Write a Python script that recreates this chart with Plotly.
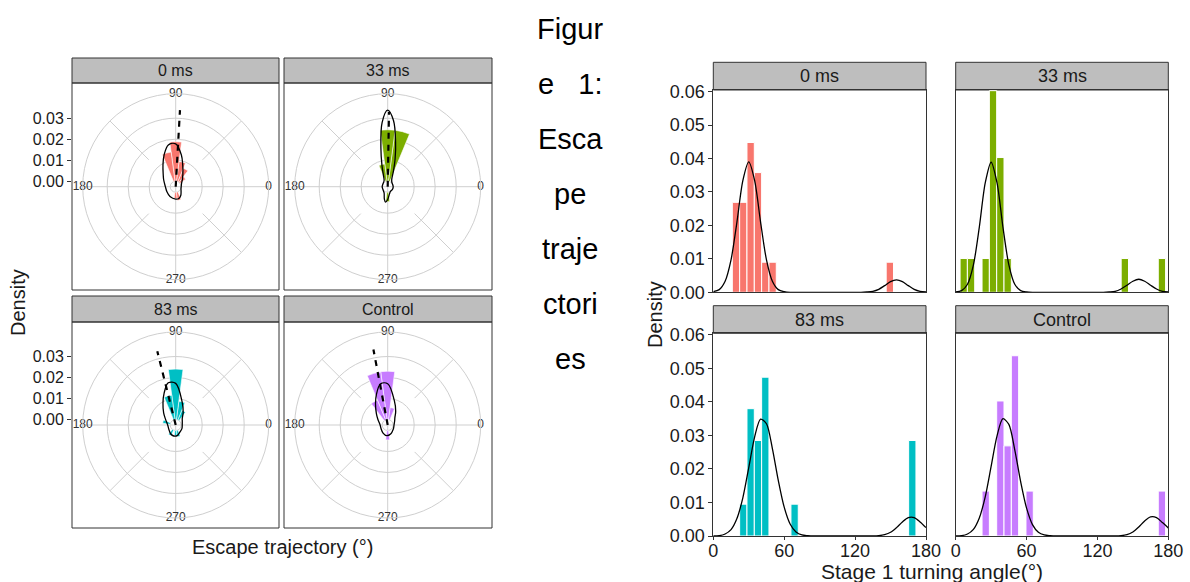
import plotly.graph_objects as go

W, H = 1190, 582


def fx(p):
    return p / W


def fy(p):
    return 1 - p / H


GROUPS = ["0 ms", "33 ms", "83 ms", "Control"]
COLORS = ["#F8766D", "#7CAE00", "#00BFC4", "#C77CFF"]

# ---------------- polar (escape trajectory) data ----------------
ROSE_BIN = 15  # degrees per wedge
rose_theta_0 = [45, 60, 75, 90, 105, 270, 285]
rose_r_0 = [0.0033, 0.0069, 0.0095, 0.0188, 0.0140, 0.0030, 0.0040]
rose_theta_33 = [75, 90, 105, 270]
rose_r_33 = [0.0245, 0.0245, 0.0083, 0.0045]
rose_theta_83 = [60, 75, 90, 105, 165, 240, 270, 285]
rose_r_83 = [0.0050, 0.0088, 0.0240, 0.0117, 0.0036, 0.0030, 0.0025, 0.0030]
rose_theta_ctl = [75, 90, 105, 120, 270]
rose_r_ctl = [0.0058, 0.0230, 0.0228, 0.0102, 0.0045]

dens_theta_0 = [0, 30, 45, 60, 72, 80, 90, 100, 110, 120, 135, 150, 180, 210, 240, 270, 285, 300, 315, 330, 345, 360]
dens_r_0 = [0.0000, 0.0006, 0.0018, 0.0042, 0.0082, 0.0128, 0.0178, 0.0176, 0.0135, 0.0095, 0.0058, 0.0040,
            0.0023, 0.0022, 0.0028, 0.0033, 0.0032, 0.0022, 0.0010, 0.0003, 0.0000, 0.0000]
dens_theta_33 = [0, 30, 45, 60, 70, 75, 80, 85, 90, 95, 100, 105, 110, 120, 150, 180, 210, 240, 255, 262, 270, 285,
                 300, 330, 360]
dens_r_33 = [0.0, 0.0, 0.0002, 0.0012, 0.0055, 0.0110, 0.0190, 0.0290, 0.0338, 0.0280, 0.0160, 0.0080, 0.0035,
             0.0008, 0.0, 0.0, 0.0, 0.0008, 0.0035, 0.0048, 0.0035, 0.0008, 0.0, 0.0, 0.0]
dens_theta_83 = [0, 30, 45, 60, 75, 90, 100, 110, 120, 135, 150, 180, 210, 240, 260, 280, 300, 330, 360]
dens_r_83 = [0.0005, 0.0010, 0.0018, 0.0045, 0.0090, 0.0172, 0.0178, 0.0135, 0.0095, 0.0055, 0.0030, 0.0012,
             0.0012, 0.0022, 0.0027, 0.0024, 0.0013, 0.0008, 0.0005]
dens_theta_ctl = [0, 30, 45, 60, 75, 90, 100, 110, 120, 135, 150, 180, 210, 240, 265, 290, 310, 330, 360]
dens_r_ctl = [0.0004, 0.0012, 0.0022, 0.0050, 0.0095, 0.0170, 0.0172, 0.0130, 0.0090, 0.0050, 0.0028, 0.0010,
              0.0010, 0.0018, 0.0025, 0.0018, 0.0010, 0.0006, 0.0004]

mean_angle = [86.8, 89.0, 104.0, 100.7]
mean_length = [0.0339, 0.0331, 0.0336, 0.0340]

polar_ticks = [0.00, 0.01, 0.02, 0.03]
angle_labels = ["0", "90", "180", "270"]
angle_label_pos = [0, 90, 180, 270]

# ---------------- histogram (stage 1 turning angle) data ----------------
BIN_WIDTH = 6.2
hist_x_0 = [19.2, 25.4, 31.6, 37.8, 44.0, 50.2, 149.4]
hist_y_0 = [0.0269, 0.0269, 0.0448, 0.0358, 0.0090, 0.0090, 0.0090]
hist_x_33 = [6.8, 13.0, 25.4, 31.6, 37.8, 44.0, 143.2, 174.6]
hist_y_33 = [0.0101, 0.0101, 0.0101, 0.0603, 0.0403, 0.0101, 0.0101, 0.0101]
hist_x_83 = [25.4, 31.6, 37.8, 44.0, 68.8, 168.4]
hist_y_83 = [0.0095, 0.0380, 0.0285, 0.0474, 0.0095, 0.0285]
hist_x_ctl = [25.4, 37.8, 44.0, 50.2, 62.6, 174.6]
hist_y_ctl = [0.0134, 0.0403, 0.0269, 0.0538, 0.0134, 0.0134]

kde_x = list(range(0, 181, 5))
kde_y_0 = [0.0002, 0.0008, 0.0033, 0.0097, 0.0210, 0.0334, 0.0390, 0.0334, 0.0210, 0.0097, 0.0033, 0.0008, 0.0002,
           0, 0, 0, 0, 0, 0, 0, 0, 0, 0, 0, 0, 0,
           0.0001, 0.0003, 0.0009, 0.0020, 0.0032, 0.0037, 0.0032, 0.0020, 0.0009, 0.0003, 0.0001]
kde_y_33 = [0.0001, 0.0005, 0.0024, 0.0082, 0.0195, 0.0327, 0.0389, 0.0327, 0.0195, 0.0082, 0.0024, 0.0005, 0.0001,
            0, 0, 0, 0, 0, 0, 0, 0, 0, 0, 0, 0, 0,
            0.0001, 0.0003, 0.0010, 0.0021, 0.0033, 0.0039, 0.0033, 0.0021, 0.0010, 0.0003, 0.0001]
kde_y_83 = [0.0000, 0.0001, 0.0006, 0.0019, 0.0052, 0.0114, 0.0204, 0.0296, 0.0349, 0.0335, 0.0261, 0.0166, 0.0086,
            0.0036, 0.0012, 0.0003, 0.0001,
            0, 0, 0, 0, 0, 0, 0, 0, 0, 0, 0,
            0.0001, 0.0004, 0.0011, 0.0025, 0.0042, 0.0055, 0.0055, 0.0042, 0.0025]
kde_y_ctl = [0.0000, 0.0001, 0.0006, 0.0020, 0.0054, 0.0117, 0.0208, 0.0299, 0.0350, 0.0333, 0.0257, 0.0162, 0.0083,
             0.0034, 0.0011, 0.0003, 0.0001,
             0, 0, 0, 0, 0, 0, 0, 0, 0, 0, 0,
             0.0001, 0.0004, 0.0012, 0.0027, 0.0045, 0.0057, 0.0055, 0.0040, 0.0024]

hist_ticks_x = [0, 60, 120, 180]
hist_ticks_y = [0.00, 0.01, 0.02, 0.03, 0.04, 0.05, 0.06]

title_lines = ["Figur", "e&nbsp;&nbsp;&nbsp;1:", "Esca", "pe", "traje", "ctori", "es"]

# ---------------- layout geometry (pixels) ----------------
FONT = "Liberation Sans, Arial, sans-serif"
TXT = "#1a1a1a"
GRID = "#CFCFCF"
FRAME = "#333333"
STRIP = "#BEBEBE"

R_PX = 93.0  # outer circle radius
PX_PER_UNIT = 2100.0
R0_PX = 5.5
R_MIN = -R0_PX / PX_PER_UNIT
R_MAX = (R_PX - R0_PX) / PX_PER_UNIT
DIAG_INNER = 0.0155

polar_panels = [  # (left, right, strip_top, panel_top, panel_bottom, cx, cy)
    (72, 279, 58, 83, 290, 175.7, 186.7),
    (284, 492, 58, 83, 290, 387.7, 186.7),
    (72, 279, 296, 322, 528, 175.7, 425.0),
    (284, 492, 296, 322, 528, 387.7, 425.0),
]
hist_panels = [  # (left, right, strip_top, panel_top, panel_bottom)
    (713.3, 926.0, 62.3, 90.0, 292.3),
    (955.7, 1168.3, 62.3, 90.0, 292.3),
    (713.3, 926.0, 305.7, 333.3, 536.0),
    (955.7, 1168.3, 305.7, 333.3, 536.0),
]

rose_theta = [rose_theta_0, rose_theta_33, rose_theta_83, rose_theta_ctl]
rose_r = [rose_r_0, rose_r_33, rose_r_83, rose_r_ctl]
dens_theta = [dens_theta_0, dens_theta_33, dens_theta_83, dens_theta_ctl]
dens_r = [dens_r_0, dens_r_33, dens_r_83, dens_r_ctl]
hist_x = [hist_x_0, hist_x_33, hist_x_83, hist_x_ctl]
hist_y = [hist_y_0, hist_y_33, hist_y_83, hist_y_ctl]
kde_y = [kde_y_0, kde_y_33, kde_y_83, kde_y_ctl]

fig = go.Figure()
layout = {}
shapes = []
annotations = []

for i, g in enumerate(GROUPS):
    pid = "polar" if i == 0 else f"polar{i + 1}"
    left, right, st, pt, pb, cx, cy = polar_panels[i]
    # diagonal gridlines
    diag_r, diag_t = [], []
    for a in [45, 135, 225, 315]:
        diag_r += [DIAG_INNER, R_MAX, None]
        diag_t += [a, a, None]
    fig.add_trace(go.Scatterpolar(r=diag_r, theta=diag_t, mode="lines", subplot=pid,
                                  line=dict(color=GRID, width=1), hoverinfo="skip"))
    fig.add_trace(go.Barpolar(r=rose_r[i], theta=rose_theta[i], width=[ROSE_BIN] * len(rose_r[i]),
                              subplot=pid, marker=dict(color=COLORS[i], line=dict(color="white", width=0.6)),
                              name=g))
    fig.add_trace(go.Scatterpolar(r=dens_r[i], theta=dens_theta[i], mode="lines", subplot=pid,
                                  line=dict(color="black", width=1.3, shape="spline", smoothing=1.0)))
    fig.add_trace(go.Scatterpolar(r=[R_MIN, mean_length[i]], theta=[mean_angle[i], mean_angle[i]],
                                  mode="lines", subplot=pid,
                                  line=dict(color="black", width=2.2, dash="6px,6px")))
    fig.add_trace(go.Scatterpolar(r=[R_MAX] * 4, theta=angle_label_pos, mode="text", text=angle_labels,
                                  textfont=dict(size=12, color="#333333", family=FONT),
                                  marker=dict(color="#333333"), subplot=pid,
                                  cliponaxis=False, hoverinfo="skip"))
    layout[pid] = dict(
        domain=dict(x=[fx(cx - R_PX), fx(cx + R_PX)], y=[fy(cy + R_PX), fy(cy - R_PX)]),
        bgcolor="rgba(0,0,0,0)",
        radialaxis=dict(range=[R_MIN, R_MAX], tickvals=polar_ticks, showticklabels=False, ticks="",
                        showline=False, gridcolor=GRID, gridwidth=1),
        angularaxis=dict(rotation=0, direction="counterclockwise", tickvals=[0, 90, 180, 270],
                         showticklabels=False, ticks="", showline=True, linecolor=GRID, linewidth=1,
                         gridcolor=GRID, gridwidth=1),
    )
    # frames and strip
    shapes.append(dict(type="rect", xref="paper", yref="paper", x0=fx(left), x1=fx(right), y0=fy(pb), y1=fy(pt),
                       line=dict(color=FRAME, width=1), fillcolor="rgba(0,0,0,0)", layer="above"))
    shapes.append(dict(type="rect", xref="paper", yref="paper", x0=fx(left), x1=fx(right), y0=fy(pt), y1=fy(st),
                       line=dict(color=FRAME, width=1), fillcolor=STRIP, layer="below"))
    annotations.append(dict(text=g, x=fx((left + right) / 2), y=fy((st + pt) / 2), xref="paper", yref="paper",
                            showarrow=False, font=dict(size=16, color=TXT, family=FONT),
                            xanchor="center", yanchor="middle"))

# y-axis scales for the polar panels (left column)
for k, (idx, ax) in enumerate([(0, 5), (2, 6)]):
    left, right, st, pt, pb, cx, cy = polar_panels[idx]
    top_v = (cy - pt - R0_PX) / PX_PER_UNIT
    bot_v = (cy - pb - R0_PX) / PX_PER_UNIT
    layout[f"xaxis{ax}"] = dict(domain=[fx(left), fx(right)], anchor=f"y{ax}", visible=False, range=[0, 1],
                                fixedrange=True, automargin=False)
    layout[f"yaxis{ax}"] = dict(domain=[fy(pb), fy(pt)], anchor=f"x{ax}", range=[bot_v, top_v],
                                tickvals=polar_ticks, tickformat=".2f", ticks="outside", ticklen=4,
                                tickcolor=FRAME, showgrid=False, zeroline=False, showline=False,
                                automargin=False,
                                tickfont=dict(size=16, color=TXT, family=FONT))
    fig.add_trace(go.Scatter(x=[None], y=[None], xaxis=f"x{ax}", yaxis=f"y{ax}", showlegend=False))

# histograms
for i, g in enumerate(GROUPS):
    n = "" if i == 0 else str(i + 1)
    left, right, st, pt, pb = hist_panels[i]
    fig.add_trace(go.Bar(x=hist_x[i], y=hist_y[i], width=[BIN_WIDTH] * len(hist_x[i]), xaxis=f"x{n}",
                         yaxis=f"y{n}", marker=dict(color=COLORS[i], line=dict(color="white", width=1)),
                         name=g))
    fig.add_trace(go.Scatter(x=kde_x, y=kde_y[i], mode="lines", xaxis=f"x{n}", yaxis=f"y{n}",
                             line=dict(color="black", width=1.3, shape="spline", smoothing=0.8)))
    bottom = i >= 2
    leftcol = i % 2 == 0
    layout[f"xaxis{n}"] = dict(domain=[fx(left), fx(right)], anchor=f"y{n}", range=[0, 180],
                               tickvals=hist_ticks_x, showticklabels=bottom, ticks="outside" if bottom else "",
                               ticklen=3, tickcolor=FRAME, showgrid=False, zeroline=False,
                               showline=True, mirror=True, linecolor=FRAME, linewidth=1, automargin=False,
                               ticklabelstandoff=-5,
                               tickfont=dict(size=18, color=TXT, family=FONT))
    layout[f"yaxis{n}"] = dict(domain=[fy(pb), fy(pt)], anchor=f"x{n}", range=[0, 0.0605],
                               tickvals=hist_ticks_y, tickformat=".2f", showticklabels=leftcol,
                               ticks="outside" if leftcol else "", ticklen=4, tickcolor=FRAME,
                               showgrid=False, zeroline=False, showline=True, mirror=True,
                               linecolor=FRAME, linewidth=1, automargin=False,
                               tickfont=dict(size=18, color=TXT, family=FONT))
    shapes.append(dict(type="rect", xref="paper", yref="paper", x0=fx(left), x1=fx(right), y0=fy(pt), y1=fy(st),
                       line=dict(color=FRAME, width=1), fillcolor=STRIP, layer="below"))
    annotations.append(dict(text=g, x=fx((left + right) / 2), y=fy((st + pt) / 2), xref="paper", yref="paper",
                            showarrow=False, font=dict(size=18, color=TXT, family=FONT),
                            xanchor="center", yanchor="middle"))

# axis titles
annotations += [
    dict(text="Density", x=fx(18), y=fy(303), textangle=-90, font=dict(size=20, color=TXT, family=FONT)),
    dict(text="Escape trajectory (°)", x=fx(282), y=fy(547), font=dict(size=20, color=TXT, family=FONT)),
    dict(text="Density", x=fx(655), y=fy(315), textangle=-90, font=dict(size=20, color=TXT, family=FONT)),
    dict(text="Stage 1 turning angle(°)", x=fx(932), y=fy(571), font=dict(size=21, color=TXT, family=FONT)),
]
for j, line in enumerate(title_lines):
    annotations.append(dict(text=line, x=fx(570), y=fy(29 + 55 * j),
                            font=dict(size=29, color="#000000", family=FONT)))
for a in annotations:
    a.setdefault("xref", "paper")
    a.setdefault("yref", "paper")
    a.setdefault("showarrow", False)
    a.setdefault("xanchor", "center")
    a.setdefault("yanchor", "middle")

fig.update_layout(
    template="none",
    width=W, height=H, autosize=False,
    margin=dict(l=0, r=0, t=0, b=0, pad=0, autoexpand=False),
    paper_bgcolor="white", plot_bgcolor="rgba(0,0,0,0)",
    showlegend=False,
    font=dict(family=FONT, color=TXT),
    shapes=shapes, annotations=annotations,
    **layout,
)

fig.write_html(
    "out.html",
    config={"displayModeBar": False, "staticPlot": True},
    post_script="document.body.style.margin='0px';document.body.style.overflow='hidden';",
)
